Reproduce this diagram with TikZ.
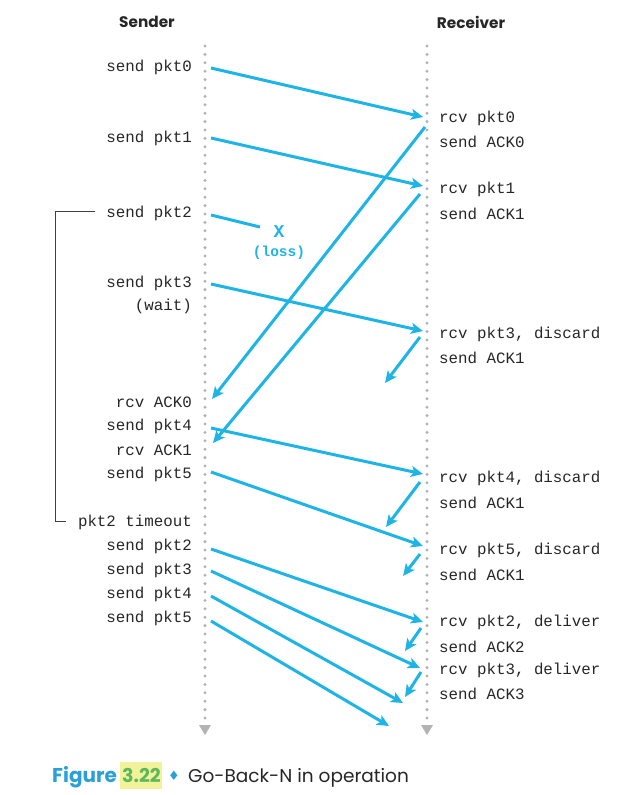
\documentclass[tikz,border=0pt]{standalone}
\usepackage{fontspec}
\setmainfont{Poppins}
\newfontfamily\monof{Liberation Mono}
\newfontfamily\symf{DejaVu Sans}
\usetikzlibrary{arrows.meta}
\definecolor{arr}{HTML}{1EB4E6}
\definecolor{dotg}{HTML}{B3B3B3}
\definecolor{capblue}{HTML}{2A9FD8}
\definecolor{hilite}{HTML}{F2F29A}
\definecolor{capgreen}{HTML}{5CB85C}
\tikzset{
  lbl/.style={font=\monof\fontsize{15.8}{17}\selectfont, inner sep=0pt, text=black!85},
  slbl/.style={lbl, anchor=east},
  rlbl/.style={lbl, anchor=west},
  msg/.style={draw=arr, line width=3pt, -{Stealth[length=12pt,width=11pt,inset=3pt]}},
  lifeline/.style={draw=dotg, line width=3.3pt, line cap=round, dash pattern=on 0pt off 8.4pt},
  hdr/.style={font=\bfseries\fontsize{15.3}{18}\selectfont, text=black!85},
  brk/.style={draw=black!75, line width=0.9pt}
}
\begin{document}
\begin{tikzpicture}[x=1pt,y=-1pt]
\useasboundingbox (0,0) rectangle (632,795);
% headers
\node[hdr] (hs) at (147,22) {Sender};
\node[hdr] (hr) at (471,22) {Receiver};
% lifelines
\coordinate (st) at (205,46); \coordinate (sb) at (205,722);
\coordinate (rt) at (427,46); \coordinate (rb) at (427,722);
\draw[lifeline] (st) -- (sb);
\draw[lifeline] (rt) -- (rb);
\fill[dotg] (199,725) -- (211,725) -- (205,735) -- cycle;
\fill[dotg] (421,725) -- (433,725) -- (427,735) -- cycle;
% sender labels
\node[slbl] (s0) at (192,67) {send pkt0};
\node[slbl] (s1) at (192,138) {send pkt1};
\node[slbl] (s2) at (192,213) {send pkt2};
\node[slbl] (s3) at (192,283) {send pkt3};
\node[slbl] (sw) at (192,306) {(wait)};
\node[slbl] (ra0) at (192,402) {rcv ACK0};
\node[slbl] (s4) at (192,426) {send pkt4};
\node[slbl] (ra1) at (192,450) {rcv ACK1};
\node[slbl] (s5) at (192,474) {send pkt5};
\node[slbl] (to) at (192,522) {pkt2 timeout};
\node[slbl] (t2) at (192,546) {send pkt2};
\node[slbl] (t3) at (192,570) {send pkt3};
\node[slbl] (t4) at (192,594) {send pkt4};
\node[slbl] (t5) at (192,618) {send pkt5};
% receiver labels
\node[rlbl] (r0) at (439,118) {rcv pkt0};
\node[rlbl] (a0) at (439,142) {send ACK0};
\node[rlbl] (r1) at (439,189) {rcv pkt1};
\node[rlbl] (a1) at (439,214) {send ACK1};
\node[rlbl] (r3) at (439,334) {rcv pkt3, discard};
\node[rlbl] (a1b) at (439,358) {send ACK1};
\node[rlbl] (r4) at (439,478) {rcv pkt4, discard};
\node[rlbl] (a1c) at (439,503) {send ACK1};
\node[rlbl] (r5) at (439,550) {rcv pkt5, discard};
\node[rlbl] (a1d) at (439,575) {send ACK1};
\node[rlbl] (r2d) at (439,622) {rcv pkt2, deliver};
\node[rlbl] (a2) at (439,647) {send ACK2};
\node[rlbl] (r3d) at (439,670) {rcv pkt3, deliver};
\node[rlbl] (a3) at (439,694) {send ACK3};
% loss
\node[font=\monof\bfseries\fontsize{18}{20}\selectfont, text=arr, inner sep=0pt] (x) at (279,232) {X};
\node[font=\monof\bfseries\fontsize{14.5}{16}\selectfont, text=arr, inner sep=0pt] (loss) at (279,253) {(loss)};
% message endpoints
\coordinate (p0a) at (211,68);  \coordinate (p0b) at (423,117);
\coordinate (p1a) at (211,138); \coordinate (p1b) at (423,186);
\coordinate (p2a) at (211,215); \coordinate (p2b) at (260,227);
\coordinate (p3a) at (211,284); \coordinate (p3b) at (423,331);
\coordinate (k0a) at (425,127); \coordinate (k0b) at (212,399);
\coordinate (k1a) at (420,194); \coordinate (k1b) at (213,443);
\coordinate (k1ba) at (420,337); \coordinate (k1bb) at (385,383);
\coordinate (p4a) at (211,428); \coordinate (p4b) at (423,474);
\coordinate (p5a) at (211,472); \coordinate (p5b) at (423,546);
\coordinate (k1ca) at (420,482); \coordinate (k1cb) at (386,527);
\coordinate (k1da) at (420,554); \coordinate (k1db) at (403,576);
\coordinate (q2a) at (211,549); \coordinate (q2b) at (423,622);
\coordinate (q3a) at (211,571); \coordinate (q3b) at (420,668);
\coordinate (q4a) at (211,596); \coordinate (q4b) at (403,703);
\coordinate (q5a) at (211,621); \coordinate (q5b) at (389,726);
\coordinate (k2a) at (421,628); \coordinate (k2b) at (405,651);
\coordinate (k3a) at (421,672); \coordinate (k3b) at (405,697);
\draw[msg] (p0a) -- (p0b);
\draw[msg] (p1a) -- (p1b);
\draw[draw=arr, line width=3pt] (p2a) -- (p2b);
\draw[msg] (p3a) -- (p3b);
\draw[msg] (k0a) -- (k0b);
\draw[msg] (k1a) -- (k1b);
\draw[msg] (k1ba) -- (k1bb);
\draw[msg] (p4a) -- (p4b);
\draw[msg] (p5a) -- (p5b);
\draw[msg] (k1ca) -- (k1cb);
\draw[msg] (k1da) -- (k1db);
\draw[msg] (q2a) -- (q2b);
\draw[msg] (q3a) -- (q3b);
\draw[msg] (q4a) -- (q4b);
\draw[msg] (q5a) -- (q5b);
\draw[msg] (k2a) -- (k2b);
\draw[msg] (k3a) -- (k3b);
% timeout bracket
\coordinate (bt) at (95,211); \coordinate (bb) at (66,521);
\draw[brk] (bt) -- (55,211) -- (55,521) -- (bb);
% caption
\fill[hilite] (120,762) rectangle (162,789);
\node[anchor=base west, inner sep=0pt, font=\bfseries\fontsize{20}{22}\selectfont, text=capblue] (fig) at (52,782) {Figure};
\node[anchor=base west, inner sep=0pt, font=\bfseries\fontsize{19}{22}\selectfont, text=capgreen] (num) at (122,782) {3.22};
\node[anchor=base west, inner sep=0pt, font=\symf\fontsize{13}{15}\selectfont, text=capblue] (dia) at (168,780) {♦};
\node[anchor=base west, inner sep=0pt, font=\fontsize{18.5}{22}\selectfont, text=black!85] (cap) at (188,782) {Go-Back-N in operation};
\end{tikzpicture}
\end{document}
